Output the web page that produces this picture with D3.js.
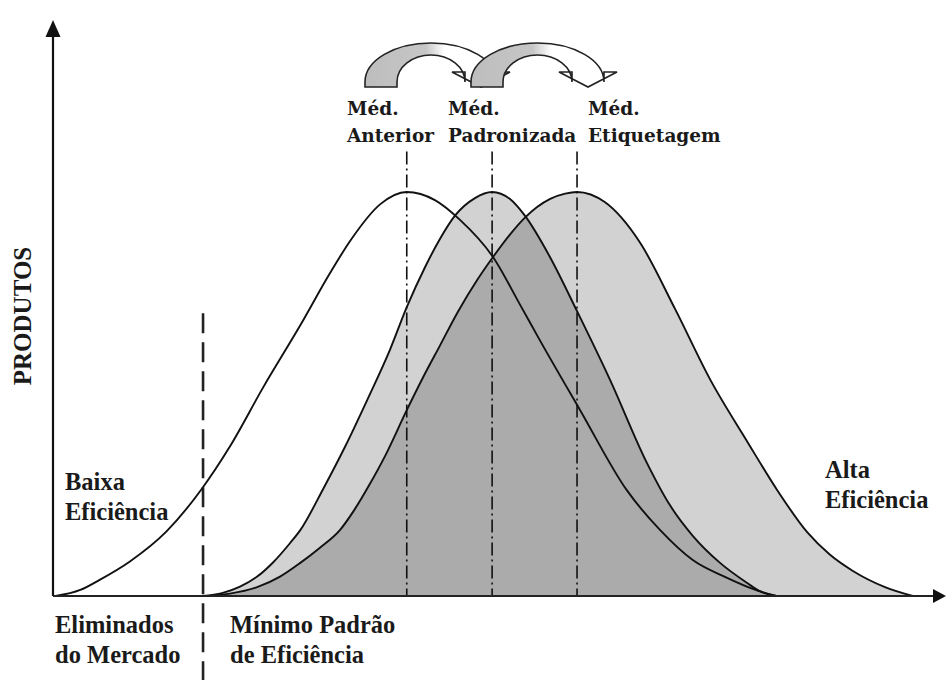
<!DOCTYPE html>
<html>
<head>
<meta charset="utf-8">
<script src="https://cdn.jsdelivr.net/npm/d3@7"></script>
<style>
  html, body { margin: 0; padding: 0; background: #fff; }
  svg { display: block; }
</style>
</head>
<body>
<svg id="chart" width="946" height="680"></svg>
<script>
// ---------------- DATA ----------------
// x = efficiency (0..100), y = number of products (peak = 100)
const curveAnterior = [
  [0.3, 0], [3.1, 1.5], [5.3, 4.0], [8.7, 8.5], [12.9, 16.0], [16.9, 26.5],
  [20.1, 37.0], [23.9, 51.7], [28.1, 67.0], [31.5, 80.0], [33.8, 88.0], [37.2, 97.0],
  [40.2, 100], [43.4, 98.0], [46.25, 93.1], [50.0, 83.9], [53.1, 72.0], [55.3, 63.4],
  [59.9, 46.0], [65.2, 26.2], [69.0, 16.3], [72.7, 8.9], [76.6, 4.5], [79.6, 1.7], [82.2, 0]
];
const curvePadronizada = [
  [17.05, 0], [19.2, 0.7], [21.25, 2.3], [23.2, 4.8], [25.0, 8.3], [26.9, 13.0],
  [28.1, 16.3], [30.7, 26.5], [33.2, 37.0], [35.7, 48.5], [38.3, 61.0], [40.2, 71.5],
  [42.3, 81.5], [44.0, 88.5], [45.7, 94.2], [47.95, 98.5], [49.9, 100],
  [51.9, 98.3], [53.6, 94.2], [56.5, 83.8], [59.55, 70.5], [63.3, 53.5], [67.5, 32.9],
  [70.1, 22.5], [72.7, 14.9], [75.8, 8.2], [78.9, 3.2], [80.3, 1.2], [82.2, 0]
];
const curveEtiquetagem = [
  [17.6, 0], [20.1, 0.6], [23.2, 2.2], [25.8, 4.8], [28.1, 8.2], [30.3, 11.9],
  [32.6, 16.3], [34.3, 21.5], [36.0, 27.7], [37.7, 34.5], [40.2, 46.0], [42.0, 53.9],
  [44.0, 62.1], [46.0, 70.3], [48.2, 78.2], [50.0, 83.9], [51.9, 89.4], [53.6, 93.6],
  [56.5, 98.3], [58.2, 99.6], [59.55, 100],
  [62.7, 97.5], [66.7, 87.5], [70.7, 71.0], [74.7, 53.5], [78.9, 38.2], [82.3, 26.2],
  [85.7, 15.8], [88.3, 10.2], [90.9, 6.2], [94.55, 2.2], [97.7, 0]
];
const meanValues = [40.2, 49.9, 59.55];
const meanTitles = ["Méd.", "Méd.", "Méd."];
const meanNames = ["Anterior", "Padronizada", "Etiquetagem"];
const minimumStandard = 17.05;
const axisLabelY = "PRODUTOS";
const lowLabel = ["Baixa", "Eficiência"];
const highLabel = ["Alta", "Eficiência"];
const eliminatedLabel = ["Eliminados", "do Mercado"];
const minimumLabel = ["Mínimo Padrão", "de Eficiência"];

// ---------------- CHART ----------------
const svg = d3.select("#chart");
const x = d3.scaleLinear().domain([0, 100]).range([53, 933]);
const y = d3.scaleLinear().domain([0, 100]).range([596, 192]);

const defs = svg.append("defs");
const curveType = d3.curveMonotoneX;
const line = d3.line().x(d => x(d[0])).y(d => y(d[1])).curve(curveType);
const area = d3.area().x(d => x(d[0])).y0(y(0)).y1(d => y(d[1])).curve(curveType);

defs.append("clipPath").attr("id", "clipPad")
  .append("path").attr("d", area(curvePadronizada));

const lightGray = "#d2d2d2";
const darkGray = "#ababab";

// light fills (union)
svg.append("path").attr("d", area(curvePadronizada)).attr("fill", lightGray);
svg.append("path").attr("d", area(curveEtiquetagem)).attr("fill", lightGray);
// dark fill (intersection)
svg.append("path").attr("d", area(curveEtiquetagem)).attr("fill", darkGray)
  .attr("clip-path", "url(#clipPad)");

// mean lines (dash-dot)
svg.selectAll("line.mean").data(meanValues).enter().append("line")
  .attr("class", "mean")
  .attr("x1", d => x(d)).attr("x2", d => x(d))
  .attr("y1", y(110)).attr("y2", y(0))
  .attr("stroke", "#111").attr("stroke-width", 1.6)
  .attr("stroke-dasharray", "13,4,2,4");

// minimum standard line (dashed)
svg.append("line")
  .attr("x1", x(minimumStandard)).attr("x2", x(minimumStandard))
  .attr("y1", y(70)).attr("y2", 680)
  .attr("stroke", "#222").attr("stroke-width", 2.6)
  .attr("stroke-dasharray", "20,9");

// curve outlines
[curveAnterior, curvePadronizada, curveEtiquetagem].forEach(c => {
  svg.append("path").attr("d", line(c)).attr("fill", "none")
    .attr("stroke", "#111").attr("stroke-width", 1.9);
});

// axes
const x0 = x(0), y0 = y(0);
svg.append("line").attr("x1", x0).attr("x2", x0).attr("y1", y0).attr("y2", 34)
  .attr("stroke", "#111").attr("stroke-width", 2.2);
svg.append("path").attr("d", `M${x0},20 L${x0 - 7.5},37 L${x0 + 7.5},37 Z`).attr("fill", "#111");
svg.append("line").attr("x1", x0).attr("x2", 934).attr("y1", y0).attr("y2", y0)
  .attr("stroke", "#222").attr("stroke-width", 2.2);
svg.append("path").attr("d", `M946,${y0} L933,${y0 - 7} L933,${y0 + 7} Z`).attr("fill", "#111");

// curved arrows at the top
const grad = defs.append("linearGradient").attr("id", "arrowGrad")
  .attr("x1", "0").attr("x2", "1").attr("y1", "0").attr("y2", "0");
grad.append("stop").attr("offset", "0").attr("stop-color", "#bdbdbd");
grad.append("stop").attr("offset", "0.42").attr("stop-color", "#c6c6c6");
grad.append("stop").attr("offset", "0.55").attr("stop-color", "#ffffff");
grad.append("stop").attr("offset", "1").attr("stop-color", "#ffffff");

function arrowPath(legX, headX) {
  const cx = (legX + headX) / 2;
  const ro = (headX - legX) / 2 + 16, ri = (headX - legX) / 2 - 16;
  const cy = 82, ryo = 39, ryi = 27, base = 87, hb = 72, hw = 29;
  return `M${cx - ro},${base} L${cx - ro},${cy} A${ro},${ryo} 0 0 1 ${cx + ro},${cy}` +
    ` L${cx + ro},${hb} L${headX + hw},${hb} L${headX},${base} L${headX - hw},${hb}` +
    ` L${cx + ri},${hb} L${cx + ri},${cy} A${ri},${ryi} 0 0 0 ${cx - ri},${cy}` +
    ` L${cx - ri},${base} Z`;
}
const arrows = [[381, 481], [487, 588]];
arrows.forEach(a => {
  svg.append("path").attr("d", arrowPath(a[0], a[1]))
    .attr("fill", "url(#arrowGrad)").attr("stroke", "#222").attr("stroke-width", 1.6)
    .attr("stroke-linejoin", "miter");
});

// ---------------- TEXT ----------------
const serif = "'Liberation Serif', 'Times New Roman', serif";
const slab = "'DejaVu Serif', serif";

const topX = [347, 448, 588];
meanNames.forEach((n, i) => {
  svg.append("text").attr("x", topX[i]).attr("y", 115).text(meanTitles[i])
    .attr("font-family", slab).attr("font-weight", "bold").attr("font-size", 18.5).attr("fill", "#1a1a1a");
  svg.append("text").attr("x", topX[i]).attr("y", 142).text(n)
    .attr("font-family", slab).attr("font-weight", "bold").attr("font-size", 18.5).attr("fill", "#1a1a1a");
});

function twoLines(lines, px, py1, py2) {
  svg.append("text").attr("x", px).attr("y", py1).text(lines[0])
    .attr("font-family", serif).attr("font-weight", "bold").attr("font-size", 24.5).attr("fill", "#1a1a1a");
  svg.append("text").attr("x", px).attr("y", py2).text(lines[1])
    .attr("font-family", serif).attr("font-weight", "bold").attr("font-size", 24.5).attr("fill", "#1a1a1a");
}
twoLines(lowLabel, 65, 490, 520);
twoLines(highLabel, 825, 478, 508);
twoLines(eliminatedLabel, 55, 633, 663);
twoLines(minimumLabel, 230, 633, 663);

svg.append("text").attr("transform", "translate(31,316) rotate(-90)")
  .attr("text-anchor", "middle").text(axisLabelY)
  .attr("font-family", serif).attr("font-weight", "bold").attr("font-size", 25).attr("fill", "#1a1a1a");
</script>
</body>
</html>
